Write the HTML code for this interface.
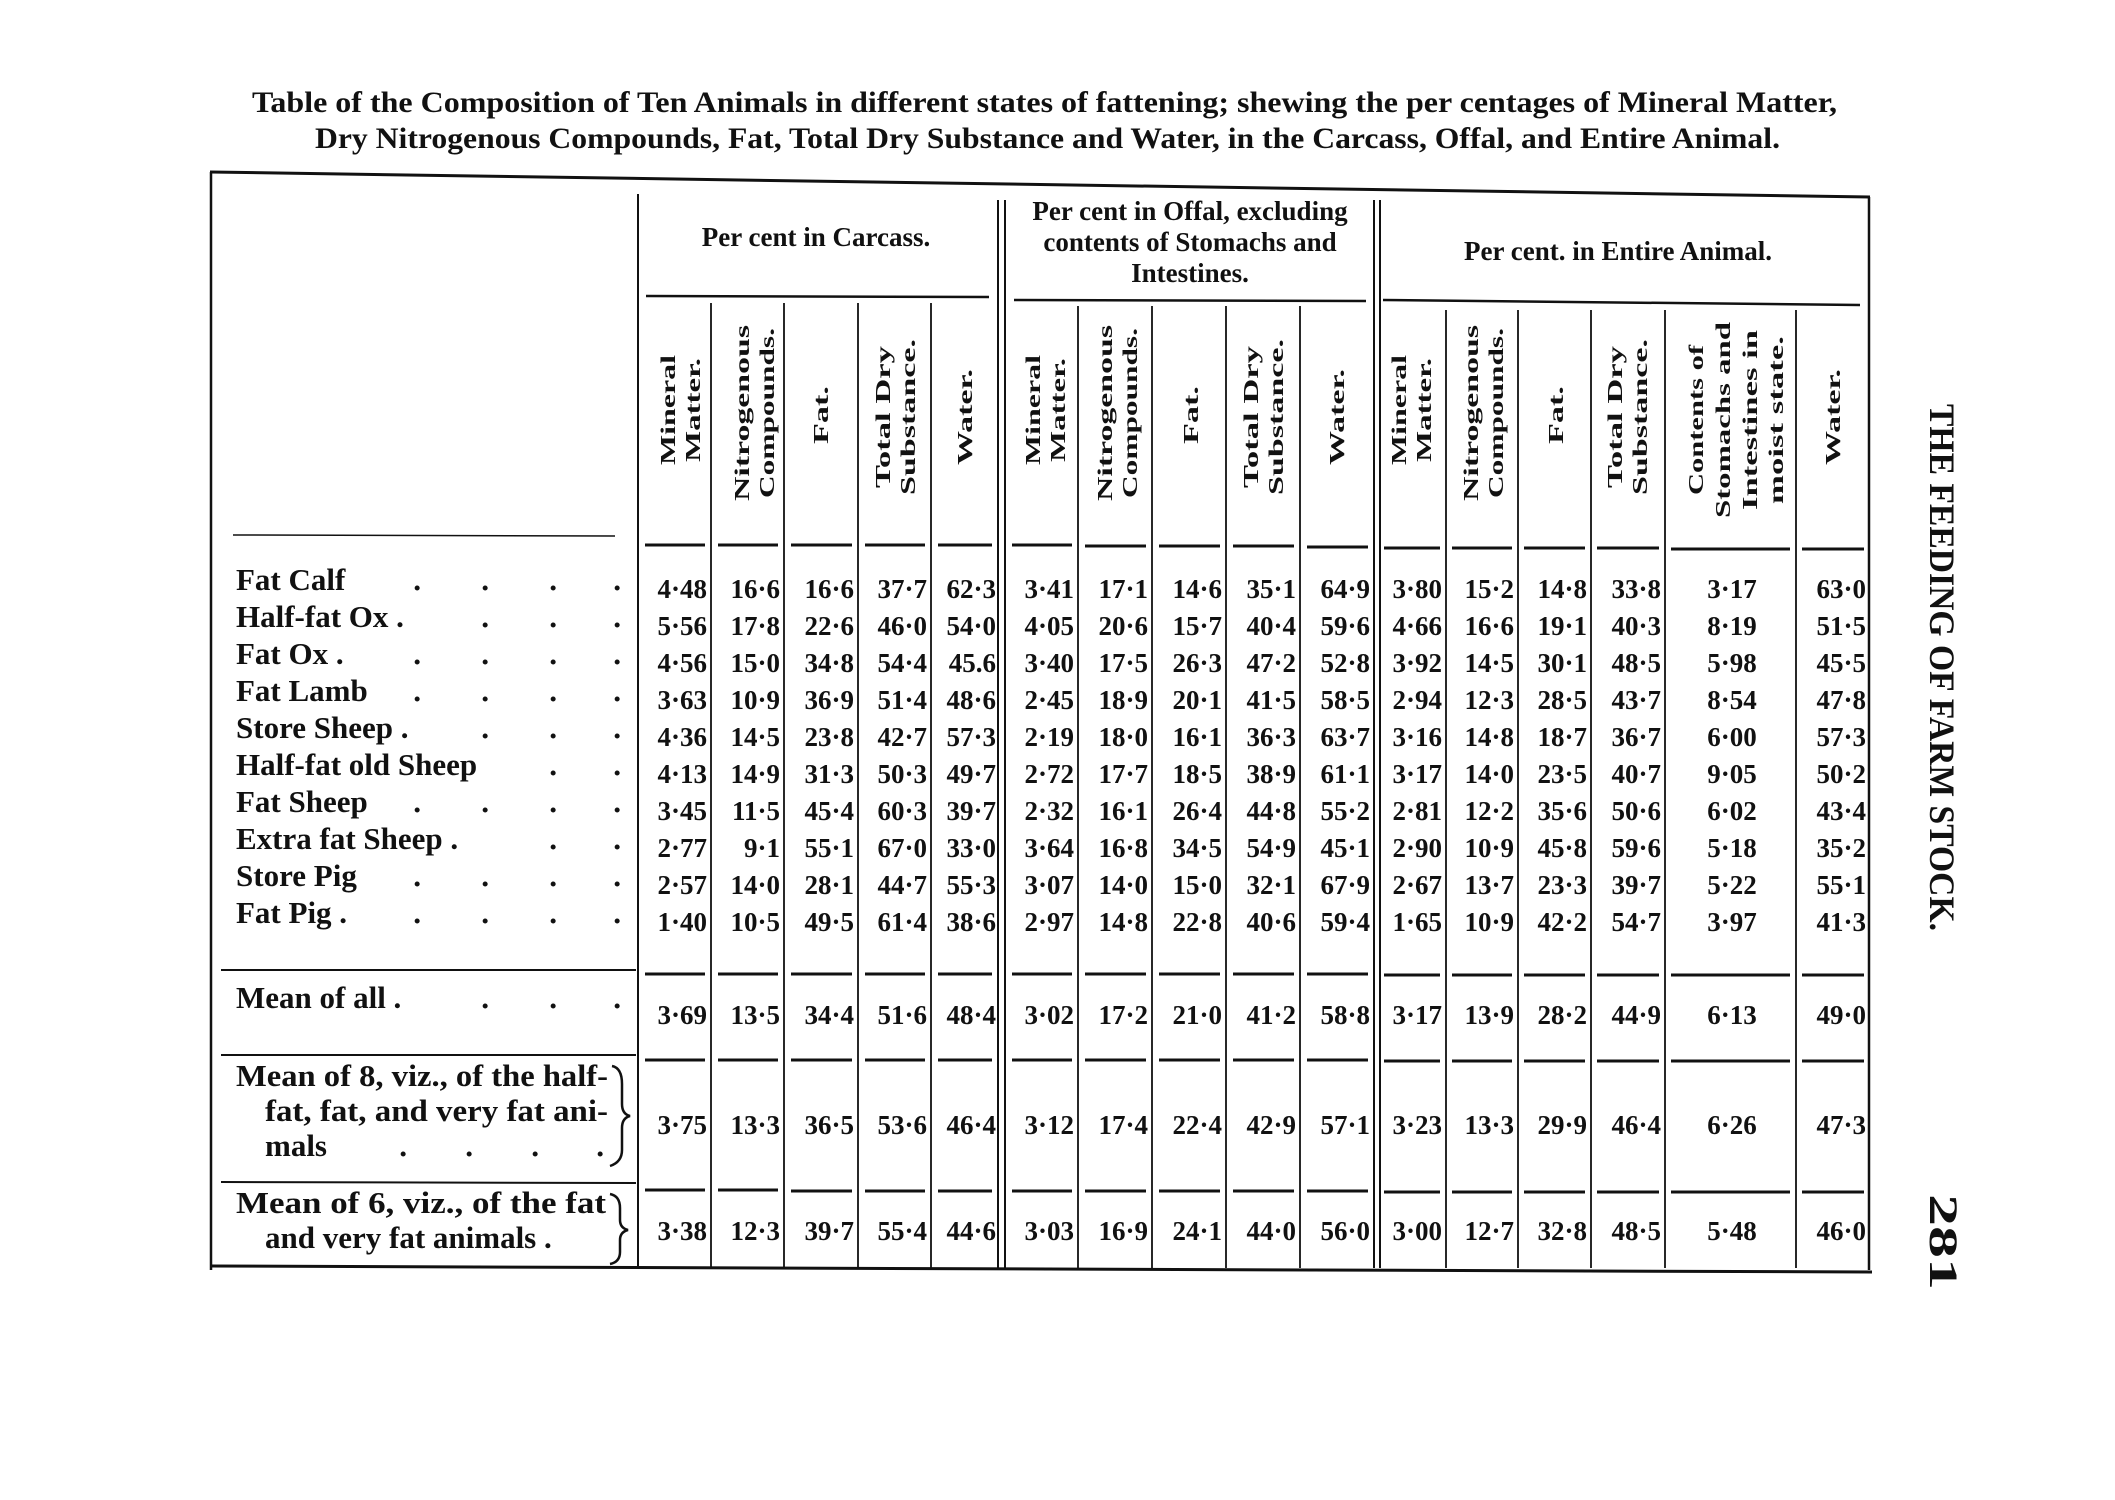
<!DOCTYPE html>
<html><head><meta charset="utf-8"><style>
html,body{margin:0;padding:0;background:#fff;}
svg{display:block;}
.t{font-family:"Liberation Serif",serif;font-weight:bold;fill:#111;}
.n{font-family:"Liberation Serif",serif;font-weight:bold;font-size:27px;fill:#111;text-anchor:end;}
.c{text-anchor:middle;}
.h{font-family:"Liberation Serif",serif;font-weight:bold;font-size:21px;fill:#111;text-anchor:middle;}
.l{font-family:"Liberation Serif",serif;font-weight:bold;font-size:31px;fill:#111;}
</style></head><body>
<svg width="2115" height="1500" viewBox="0 0 2115 1500" xmlns="http://www.w3.org/2000/svg">
<rect width="2115" height="1500" fill="#fff"/>
<text class="t" x="252" y="112" font-size="30" textLength="1585" lengthAdjust="spacingAndGlyphs">Table of the Composition of Ten Animals in different states of fattening; shewing the per centages of Mineral Matter,</text>
<text class="t" x="315" y="148" font-size="30" textLength="1465" lengthAdjust="spacingAndGlyphs">Dry Nitrogenous Compounds, Fat, Total Dry Substance and Water, in the Carcass, Offal, and Entire Animal.</text>

<g stroke="#111" fill="none">
<line x1="210" y1="172" x2="1870" y2="197" stroke-width="3"/>
<line x1="211" y1="172" x2="211" y2="1270" stroke-width="2.5"/>
<line x1="210" y1="1266" x2="1872" y2="1272" stroke-width="3"/>
<line x1="1869" y1="197" x2="1869" y2="1270" stroke-width="2.5"/>
<line x1="638" y1="194" x2="638" y2="1268" stroke-width="2"/>
<line x1="998" y1="200" x2="998" y2="1268" stroke-width="2"/>
<line x1="1005" y1="200" x2="1005" y2="1268" stroke-width="2"/>
<line x1="1374" y1="200" x2="1374" y2="1268" stroke-width="2"/>
<line x1="1380" y1="200" x2="1380" y2="1268" stroke-width="2"/>
<line x1="646" y1="296" x2="989" y2="297" stroke-width="2.5"/>
<line x1="1014" y1="300" x2="1366" y2="301" stroke-width="2.5"/>
<line x1="1383" y1="300" x2="1860" y2="305" stroke-width="2.5"/>
<g stroke-width="1.8">
<line x1="711" y1="303" x2="711" y2="1268"/><line x1="784" y1="303" x2="784" y2="1268"/>
<line x1="858" y1="303" x2="858" y2="1268"/><line x1="931" y1="303" x2="931" y2="1268"/>
<line x1="1078" y1="306" x2="1078" y2="1268"/><line x1="1152" y1="306" x2="1152" y2="1268"/>
<line x1="1226" y1="306" x2="1226" y2="1268"/><line x1="1300" y1="306" x2="1300" y2="1268"/>
<line x1="1446" y1="310" x2="1446" y2="1268"/><line x1="1518" y1="310" x2="1518" y2="1268"/>
<line x1="1591" y1="310" x2="1591" y2="1268"/><line x1="1665" y1="310" x2="1665" y2="1268"/>
<line x1="1796" y1="310" x2="1796" y2="1268"/>
</g>
<line x1="233" y1="535" x2="615" y2="536" stroke-width="1.5"/>
<line x1="221" y1="970" x2="636" y2="970" stroke-width="2"/>
<line x1="221" y1="1055" x2="636" y2="1055" stroke-width="2"/>
<line x1="221" y1="1182" x2="636" y2="1183" stroke-width="2"/>
</g>
<g stroke="#111" stroke-width="3">
<path d="M645 545H705M718 545H778M791 545H852M865 545H925M938 545H992M1012 545H1072M1085 546H1146M1159 546H1220M1233 546H1294M1307 547H1368M1384 548H1440M1452 548H1512M1524 548H1585M1597 548H1659M1671 549H1790M1802 549H1864"/>
<path d="M645 974H705M718 974H778M791 974H852M865 974H925M938 974H992M1012 974H1072M1085 974H1146M1159 974H1220M1233 974H1294M1307 974H1368M1384 975H1440M1452 975H1512M1524 975H1585M1597 975H1659M1671 975H1790M1802 975H1864"/>
<path d="M645 1060H705M718 1060H778M791 1060H852M865 1060H925M938 1060H992M1012 1060H1072M1085 1060H1146M1159 1060H1220M1233 1060H1294M1307 1060H1368M1384 1061H1440M1452 1061H1512M1524 1061H1585M1597 1061H1659M1671 1061H1790M1802 1061H1864"/>
<path d="M645 1190H705M718 1190H778M791 1191H852M865 1191H925M938 1191H992M1012 1191H1072M1085 1191H1146M1159 1191H1220M1233 1191H1294M1307 1191H1368M1384 1192H1440M1452 1192H1512M1524 1192H1585M1597 1192H1659M1671 1192H1790M1802 1192H1864"/>
</g>

<text class="t c" x="816" y="246" font-size="27">Per cent in Carcass.</text>
<text class="t c" x="1190" y="220" font-size="27">Per cent in Offal, excluding</text>
<text class="t c" x="1190" y="251" font-size="27">contents of Stomachs and</text>
<text class="t c" x="1190" y="282" font-size="27">Intestines.</text>
<text class="t c" x="1618" y="260" font-size="27">Per cent. in Entire Animal.</text>

<g class="h">
<text transform="translate(675,410) rotate(-90)" textLength="110" lengthAdjust="spacingAndGlyphs">Mineral</text>
<text transform="translate(700,410) rotate(-90)" textLength="104" lengthAdjust="spacingAndGlyphs">Matter.</text>
<text transform="translate(749,413) rotate(-90)" textLength="176" lengthAdjust="spacingAndGlyphs">Nitrogenous</text>
<text transform="translate(774,413) rotate(-90)" textLength="170" lengthAdjust="spacingAndGlyphs">Compounds.</text>
<text transform="translate(828,415) rotate(-90)" textLength="58" lengthAdjust="spacingAndGlyphs">Fat.</text>
<text transform="translate(890,417) rotate(-90)" textLength="142" lengthAdjust="spacingAndGlyphs">Total Dry</text>
<text transform="translate(915,417) rotate(-90)" textLength="156" lengthAdjust="spacingAndGlyphs">Substance.</text>
<text transform="translate(972,417) rotate(-90)" textLength="96" lengthAdjust="spacingAndGlyphs">Water.</text>

<text transform="translate(1040,410) rotate(-90)" textLength="110" lengthAdjust="spacingAndGlyphs">Mineral</text>
<text transform="translate(1065,410) rotate(-90)" textLength="104" lengthAdjust="spacingAndGlyphs">Matter.</text>
<text transform="translate(1112,413) rotate(-90)" textLength="176" lengthAdjust="spacingAndGlyphs">Nitrogenous</text>
<text transform="translate(1137,413) rotate(-90)" textLength="170" lengthAdjust="spacingAndGlyphs">Compounds.</text>
<text transform="translate(1198,415) rotate(-90)" textLength="58" lengthAdjust="spacingAndGlyphs">Fat.</text>
<text transform="translate(1258,417) rotate(-90)" textLength="142" lengthAdjust="spacingAndGlyphs">Total Dry</text>
<text transform="translate(1283,417) rotate(-90)" textLength="156" lengthAdjust="spacingAndGlyphs">Substance.</text>
<text transform="translate(1344,417) rotate(-90)" textLength="96" lengthAdjust="spacingAndGlyphs">Water.</text>

<text transform="translate(1406,410) rotate(-90)" textLength="110" lengthAdjust="spacingAndGlyphs">Mineral</text>
<text transform="translate(1431,410) rotate(-90)" textLength="104" lengthAdjust="spacingAndGlyphs">Matter.</text>
<text transform="translate(1478,413) rotate(-90)" textLength="176" lengthAdjust="spacingAndGlyphs">Nitrogenous</text>
<text transform="translate(1503,413) rotate(-90)" textLength="170" lengthAdjust="spacingAndGlyphs">Compounds.</text>
<text transform="translate(1563,415) rotate(-90)" textLength="58" lengthAdjust="spacingAndGlyphs">Fat.</text>
<text transform="translate(1622,417) rotate(-90)" textLength="142" lengthAdjust="spacingAndGlyphs">Total Dry</text>
<text transform="translate(1647,417) rotate(-90)" textLength="156" lengthAdjust="spacingAndGlyphs">Substance.</text>
<text transform="translate(1703,420) rotate(-90)" textLength="150" lengthAdjust="spacingAndGlyphs">Contents of</text>
<text transform="translate(1730,420) rotate(-90)" textLength="196" lengthAdjust="spacingAndGlyphs">Stomachs and</text>
<text transform="translate(1757,420) rotate(-90)" textLength="180" lengthAdjust="spacingAndGlyphs">Intestines in</text>
<text transform="translate(1783,420) rotate(-90)" textLength="168" lengthAdjust="spacingAndGlyphs">moist state.</text>
<text transform="translate(1840,417) rotate(-90)" textLength="96" lengthAdjust="spacingAndGlyphs">Water.</text>
</g>

<text class="t" transform="translate(1930,404) rotate(90)" font-size="36" textLength="527" lengthAdjust="spacingAndGlyphs">THE FEEDING OF FARM STOCK.</text>
<text class="t" transform="translate(1930,1194) rotate(90)" font-size="40" textLength="96" lengthAdjust="spacingAndGlyphs">281</text>

<g class="l">
<text x="236" y="590">Fat Calf</text>
<text x="236" y="627">Half-fat Ox .</text>
<text x="236" y="664">Fat Ox .</text>
<text x="236" y="701">Fat Lamb</text>
<text x="236" y="738">Store Sheep .</text>
<text x="236" y="775">Half-fat old Sheep</text>
<text x="236" y="812">Fat Sheep</text>
<text x="236" y="849">Extra fat Sheep .</text>
<text x="236" y="886">Store Pig</text>
<text x="236" y="923">Fat Pig .</text>
<text x="236" y="1008">Mean of all .</text>
<text x="236" y="1086" textLength="372" lengthAdjust="spacingAndGlyphs">Mean of 8, viz., of the half-</text>
<text x="265" y="1121" textLength="343" lengthAdjust="spacingAndGlyphs">fat, fat, and very fat ani-</text>
<text x="265" y="1156">mals</text>
<text x="236" y="1213" textLength="370" lengthAdjust="spacingAndGlyphs">Mean of 6, viz., of the fat</text>
<text x="265" y="1248">and very fat animals .</text>
</g>
<g class="l" font-size="30">
<text x="412" y="598">·</text><text x="480" y="598">·</text><text x="548" y="598">·</text><text x="612" y="598">·</text>
<text x="480" y="635">·</text><text x="548" y="635">·</text><text x="612" y="635">·</text>
<text x="412" y="672">·</text><text x="480" y="672">·</text><text x="548" y="672">·</text><text x="612" y="672">·</text>
<text x="412" y="709">·</text><text x="480" y="709">·</text><text x="548" y="709">·</text><text x="612" y="709">·</text>
<text x="480" y="746">·</text><text x="548" y="746">·</text><text x="612" y="746">·</text>
<text x="548" y="783">·</text><text x="612" y="783">·</text>
<text x="412" y="820">·</text><text x="480" y="820">·</text><text x="548" y="820">·</text><text x="612" y="820">·</text>
<text x="548" y="857">·</text><text x="612" y="857">·</text>
<text x="412" y="894">·</text><text x="480" y="894">·</text><text x="548" y="894">·</text><text x="612" y="894">·</text>
<text x="412" y="931">·</text><text x="480" y="931">·</text><text x="548" y="931">·</text><text x="612" y="931">·</text>
<text x="480" y="1016">·</text><text x="548" y="1016">·</text><text x="612" y="1016">·</text>
<text x="398" y="1164">·</text><text x="464" y="1164">·</text><text x="530" y="1164">·</text><text x="595" y="1164">·</text>
</g>
<g stroke="#111" stroke-width="2.5" fill="none">
<path d="M612 1066 Q622 1068 622 1084 L622 1104 Q622 1114 630 1116 Q622 1118 622 1128 L622 1150 Q622 1162 610 1166"/>
<path d="M610 1194 Q620 1196 620 1208 L620 1220 Q620 1228 628 1230 Q620 1232 620 1240 L620 1252 Q620 1262 610 1264"/>
</g>

<g class="n">
<g transform="translate(0,598)"><text x="707">4·48</text><text x="780">16·6</text><text x="854">16·6</text><text x="927">37·7</text><text x="996">62·3</text><text x="1074">3·41</text><text x="1148">17·1</text><text x="1222">14·6</text><text x="1296">35·1</text><text x="1370">64·9</text><text x="1442">3·80</text><text x="1514">15·2</text><text x="1587">14·8</text><text x="1661">33·8</text><text class="c" x="1732">3·17</text><text x="1866">63·0</text></g>
<g transform="translate(0,635)"><text x="707">5·56</text><text x="780">17·8</text><text x="854">22·6</text><text x="927">46·0</text><text x="996">54·0</text><text x="1074">4·05</text><text x="1148">20·6</text><text x="1222">15·7</text><text x="1296">40·4</text><text x="1370">59·6</text><text x="1442">4·66</text><text x="1514">16·6</text><text x="1587">19·1</text><text x="1661">40·3</text><text class="c" x="1732">8·19</text><text x="1866">51·5</text></g>
<g transform="translate(0,672)"><text x="707">4·56</text><text x="780">15·0</text><text x="854">34·8</text><text x="927">54·4</text><text x="996">45.6</text><text x="1074">3·40</text><text x="1148">17·5</text><text x="1222">26·3</text><text x="1296">47·2</text><text x="1370">52·8</text><text x="1442">3·92</text><text x="1514">14·5</text><text x="1587">30·1</text><text x="1661">48·5</text><text class="c" x="1732">5·98</text><text x="1866">45·5</text></g>
<g transform="translate(0,709)"><text x="707">3·63</text><text x="780">10·9</text><text x="854">36·9</text><text x="927">51·4</text><text x="996">48·6</text><text x="1074">2·45</text><text x="1148">18·9</text><text x="1222">20·1</text><text x="1296">41·5</text><text x="1370">58·5</text><text x="1442">2·94</text><text x="1514">12·3</text><text x="1587">28·5</text><text x="1661">43·7</text><text class="c" x="1732">8·54</text><text x="1866">47·8</text></g>
<g transform="translate(0,746)"><text x="707">4·36</text><text x="780">14·5</text><text x="854">23·8</text><text x="927">42·7</text><text x="996">57·3</text><text x="1074">2·19</text><text x="1148">18·0</text><text x="1222">16·1</text><text x="1296">36·3</text><text x="1370">63·7</text><text x="1442">3·16</text><text x="1514">14·8</text><text x="1587">18·7</text><text x="1661">36·7</text><text class="c" x="1732">6·00</text><text x="1866">57·3</text></g>
<g transform="translate(0,783)"><text x="707">4·13</text><text x="780">14·9</text><text x="854">31·3</text><text x="927">50·3</text><text x="996">49·7</text><text x="1074">2·72</text><text x="1148">17·7</text><text x="1222">18·5</text><text x="1296">38·9</text><text x="1370">61·1</text><text x="1442">3·17</text><text x="1514">14·0</text><text x="1587">23·5</text><text x="1661">40·7</text><text class="c" x="1732">9·05</text><text x="1866">50·2</text></g>
<g transform="translate(0,820)"><text x="707">3·45</text><text x="780">11·5</text><text x="854">45·4</text><text x="927">60·3</text><text x="996">39·7</text><text x="1074">2·32</text><text x="1148">16·1</text><text x="1222">26·4</text><text x="1296">44·8</text><text x="1370">55·2</text><text x="1442">2·81</text><text x="1514">12·2</text><text x="1587">35·6</text><text x="1661">50·6</text><text class="c" x="1732">6·02</text><text x="1866">43·4</text></g>
<g transform="translate(0,857)"><text x="707">2·77</text><text x="780">9·1</text><text x="854">55·1</text><text x="927">67·0</text><text x="996">33·0</text><text x="1074">3·64</text><text x="1148">16·8</text><text x="1222">34·5</text><text x="1296">54·9</text><text x="1370">45·1</text><text x="1442">2·90</text><text x="1514">10·9</text><text x="1587">45·8</text><text x="1661">59·6</text><text class="c" x="1732">5·18</text><text x="1866">35·2</text></g>
<g transform="translate(0,894)"><text x="707">2·57</text><text x="780">14·0</text><text x="854">28·1</text><text x="927">44·7</text><text x="996">55·3</text><text x="1074">3·07</text><text x="1148">14·0</text><text x="1222">15·0</text><text x="1296">32·1</text><text x="1370">67·9</text><text x="1442">2·67</text><text x="1514">13·7</text><text x="1587">23·3</text><text x="1661">39·7</text><text class="c" x="1732">5·22</text><text x="1866">55·1</text></g>
<g transform="translate(0,931)"><text x="707">1·40</text><text x="780">10·5</text><text x="854">49·5</text><text x="927">61·4</text><text x="996">38·6</text><text x="1074">2·97</text><text x="1148">14·8</text><text x="1222">22·8</text><text x="1296">40·6</text><text x="1370">59·4</text><text x="1442">1·65</text><text x="1514">10·9</text><text x="1587">42·2</text><text x="1661">54·7</text><text class="c" x="1732">3·97</text><text x="1866">41·3</text></g>
<g transform="translate(0,1024)"><text x="707">3·69</text><text x="780">13·5</text><text x="854">34·4</text><text x="927">51·6</text><text x="996">48·4</text><text x="1074">3·02</text><text x="1148">17·2</text><text x="1222">21·0</text><text x="1296">41·2</text><text x="1370">58·8</text><text x="1442">3·17</text><text x="1514">13·9</text><text x="1587">28·2</text><text x="1661">44·9</text><text class="c" x="1732">6·13</text><text x="1866">49·0</text></g>
<g transform="translate(0,1134)"><text x="707">3·75</text><text x="780">13·3</text><text x="854">36·5</text><text x="927">53·6</text><text x="996">46·4</text><text x="1074">3·12</text><text x="1148">17·4</text><text x="1222">22·4</text><text x="1296">42·9</text><text x="1370">57·1</text><text x="1442">3·23</text><text x="1514">13·3</text><text x="1587">29·9</text><text x="1661">46·4</text><text class="c" x="1732">6·26</text><text x="1866">47·3</text></g>
<g transform="translate(0,1240)"><text x="707">3·38</text><text x="780">12·3</text><text x="854">39·7</text><text x="927">55·4</text><text x="996">44·6</text><text x="1074">3·03</text><text x="1148">16·9</text><text x="1222">24·1</text><text x="1296">44·0</text><text x="1370">56·0</text><text x="1442">3·00</text><text x="1514">12·7</text><text x="1587">32·8</text><text x="1661">48·5</text><text class="c" x="1732">5·48</text><text x="1866">46·0</text></g>
</g>
</svg>
</body></html>
